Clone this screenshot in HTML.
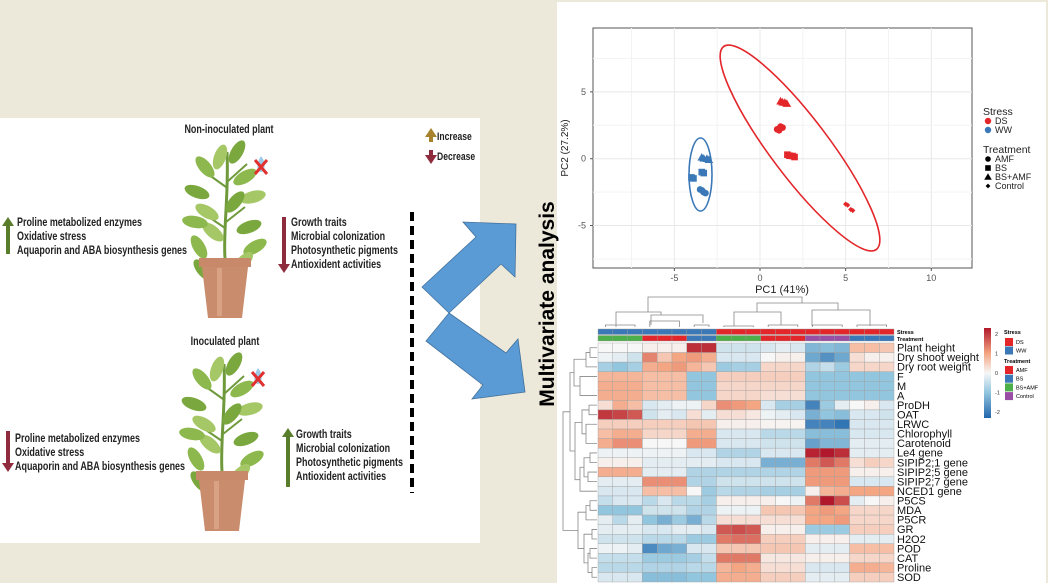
<!DOCTYPE html>
<html><head><meta charset="utf-8"><style>
body{margin:0;width:1048px;height:583px;background:#ece8da;overflow:hidden;font-family:"Liberation Sans",sans-serif;}
svg{position:absolute;left:0;top:0}
</style></head><body>
<svg width="1048" height="583" font-family="Liberation Sans, sans-serif">
<rect x="0" y="118" width="480" height="425" fill="#fff"/>
<rect x="557" y="2" width="489" height="581" fill="#fff"/>
<g id="left" font-weight="bold" font-size="11.5" fill="#222"></g>
<line x1="412" y1="212" x2="412" y2="493" stroke="#000" stroke-width="4" stroke-dasharray="9,5"/>
<polygon points="422,287 476,237 463,222 516,224 515,277 501,264 449,313" fill="#5b9bd5" stroke="#41719c" stroke-width="0.8"/>
<polygon points="449,313 506,353 518,339 525,392 472,399 483,385 426,341" fill="#5b9bd5" stroke="#41719c" stroke-width="0.8"/>
<text transform="translate(554,304) rotate(-90)" text-anchor="middle" font-size="21" font-weight="bold" fill="#000">Multivariate analysis</text>
<g id="pca"></g>
<g id="heat"></g>
</svg>
<script>
const NS="http://www.w3.org/2000/svg";
function el(p,tag,attrs,txt){const e=document.createElementNS(NS,tag);for(const k in attrs)e.setAttribute(k,attrs[k]);if(txt!=null)e.textContent=txt;p.appendChild(e);return e;}
// ---------- left panel ----------
const L=document.getElementById('left');
function ntext(x,y,s,anchor,size){return el(L,'text',{transform:`translate(${x},${y}) scale(0.78,1)`,'text-anchor':anchor||'start','font-size':size||11.5},s);}
function arrow(x,y1,y2,color,name){const up=y2<y1;const g=el(L,'g',{});

const tip=y2, base=up?y2+9:y2-9;el(g,'rect',{x:x-2,y:Math.min(y1,base),width:4,height:Math.abs(base-y1),fill:color});
el(g,'polygon',{points:`${x-6},${base} ${x+6},${base} ${x},${tip}`,fill:color});}
function lines(x,y,arr,name){arr.forEach((t,i)=>{const e=ntext(x,y+i*14,t);
});}
function plant(cx,top,potY,name){const g=el(L,'g',{});
el(g,'path',{d:`M${cx} ${potY} C${cx-2} ${top+80} ${cx+4} ${top+40} ${cx+2} ${top}`,stroke:'#6f9a3c','stroke-width':3,fill:'none'});
el(g,'path',{d:`M${cx} ${potY-30} L${cx-22} ${potY-45} M${cx+1} ${top+70} L${cx+20} ${top+55} M${cx+1} ${top+35} L${cx-20} ${top+20} M${cx+2} ${top+30} L${cx+22} ${top+12}`,stroke:'#6f9a3c','stroke-width':2,fill:'none'});
const leaves=[[-26,95,-30],[-18,60,-60],[-28,40,-70],[-20,15,-40],[-5,5,20],[12,0,30],[20,25,60],[28,45,75],[24,75,70],[30,95,60],[-12,80,-50],[10,50,40],[-30,70,-80],[18,110,45],[-22,118,-40]];
leaves.forEach((l,i)=>el(g,'ellipse',{cx:cx+l[0],cy:top+l[1],rx:6,ry:13,fill:i%3==0?'#8db84e':(i%3==1?'#a5c766':'#7aa83e'),transform:`rotate(${l[2]} ${cx+l[0]} ${top+l[1]})`}));
el(g,'rect',{x:cx-26,y:potY,width:52,height:9,fill:'#c8896a'});
el(g,'polygon',{points:`${cx-23},${potY+9} ${cx+23},${potY+9} ${cx+17},${potY+60} ${cx-17},${potY+60}`,fill:'#c98c6c'});
el(g,'rect',{x:cx-8,y:potY+10,width:5,height:48,fill:'#d9a284'});
el(g,'path',{d:`M${cx+36} ${top+4} q5 6 3 14 q-3 4 -6 0 q-2 -6 3 -14z`,fill:'#9ccbea'});
el(g,'path',{d:`M${cx+30} ${top+8} l12 14 M${cx+42} ${top+8} l-12 14`,stroke:'#e03030','stroke-width':3});}
let t=ntext(229,133,'Non-inoculated plant','middle');
t=ntext(225,345,'Inoculated plant','middle');
plant(225,152,258,'non-inoculated-plant');plant(222,364,471,'inoculated-plant');
arrow(431,142,128,'#a6832c','increase-legend-arrow');arrow(431,150,164,'#8e2b3d','decrease-legend-arrow');
t=ntext(437,140,'Increase','start',11);
t=ntext(437,160,'Decrease','start',11);
const leftList=['Proline metabolized enzymes','Oxidative stress','Aquaporin and ABA biosynthesis genes'];
const rightList=['Growth traits','Microbial colonization','Photosynthetic pigments','Antioxident activities'];
arrow(8,254,217,'#5a7d2c','up-arrow-stress');lines(17,226,leftList,'non-inoc-increase');
arrow(284,217,273,'#8e2b3d','down-arrow-growth');lines(291,226,rightList,'non-inoc-decrease');
arrow(8,431,472,'#8e2b3d','down-arrow-stress');lines(15,442,leftList,'inoc-decrease');
arrow(288,487,428,'#5a7d2c','up-arrow-growth');lines(296,438,rightList,'inoc-increase');

// ---------- PCA ----------
const pcaStress=['DS','DS','DS','DS','DS','DS','DS','DS','WW','WW','WW','WW','WW','WW'];
const pcaTreat=['BS+AMF','BS+AMF','AMF','AMF','BS','BS','Control','Control','BS+AMF','BS+AMF','BS','BS','AMF','AMF'];
const pc1=[1.2,1.45,1.0,1.2,1.6,1.9,5.0,5.3,-3.4,-3.1,-4.0,-3.4,-3.5,-3.3];
const pc2=[4.3,4.2,2.2,2.4,0.3,0.2,-3.4,-3.8,0.1,0.0,-1.4,-1.0,-2.3,-2.5];
const xTicks=[-5,0,5,10], yTicks=[-5,0,5];
const P=document.getElementById('pca');
const px=v=>760+v*17.13, py=v=>158.7-v*13.37;
const x0=593,x1=972,y0=28,y1=268;
el(P,'rect',{x:x0,y:y0,width:x1-x0,height:y1-y0,fill:'#fff',stroke:'#555','stroke-width':1});
for(let v=-7.5;v<=12.5;v+=2.5){const X=px(v);if(X>x0&&X<x1)el(P,'line',{x1:X,y1:y0,x2:X,y2:y1,stroke:xTicks.includes(v)?'#e8e8e8':'#f3f3f3'});}
for(let v=-7.5;v<=7.5;v+=2.5){const Y=py(v);if(Y>y0&&Y<y1)el(P,'line',{x1:x0,y1:Y,x2:x1,y2:Y,stroke:yTicks.includes(v)?'#e8e8e8':'#f3f3f3'});}
xTicks.forEach(v=>{const e=el(P,'text',{x:px(v),y:281,'text-anchor':'middle','font-size':9,fill:'#555'},String(v));

el(P,'line',{x1:px(v),y1:y1,x2:px(v),y2:y1+3,stroke:'#555'});});
yTicks.forEach(v=>{const e=el(P,'text',{x:586,y:py(v)+3,'text-anchor':'end','font-size':9,fill:'#555'},String(v));

el(P,'line',{x1:x0-3,y1:py(v),x2:x0,y2:py(v),stroke:'#555'});});
t=el(P,'text',{x:782,y:293,'text-anchor':'middle','font-size':11,fill:'#222'},'PC1 (41%)');
t=el(P,'text',{transform:'translate(568,148) rotate(-90)','text-anchor':'middle','font-size':10,fill:'#222'},'PC2 (27.2%)');
t=el(P,'ellipse',{cx:800,cy:148,rx:127,ry:29,fill:'none',stroke:'#e3262a','stroke-width':1.6,transform:'rotate(53 800 148)'});
t=el(P,'ellipse',{cx:700.5,cy:174.5,rx:11.5,ry:36.5,fill:'none',stroke:'#3a78b8','stroke-width':1.6});
const scol={DS:'#e3262a',WW:'#3a78b8'};
function shape(g,tr,x,y,c,s){if(tr=='AMF')return el(g,'circle',{cx:x,cy:y,r:s,fill:c});
if(tr=='BS')return el(g,'rect',{x:x-s,y:y-s,width:2*s,height:2*s,fill:c});
if(tr=='BS+AMF')return el(g,'polygon',{points:`${x-s-1},${y+s} ${x+s+1},${y+s} ${x},${y-s-1}`,fill:c});
return el(g,'polygon',{points:`${x},${y-s} ${x+s},${y} ${x},${y+s} ${x-s},${y}`,fill:c});}
pc1.forEach((v,i)=>{const s=pcaTreat[i]=='Control'?2.6:3.3;const m=shape(P,pcaTreat[i],px(v),py(pc2[i]),scol[pcaStress[i]],s);

const m2=shape(P,pcaTreat[i],px(v)+2,py(pc2[i])+1,scol[pcaStress[i]],s);});
t=el(P,'text',{x:983,y:115,'font-size':10.5,fill:'#222'},'Stress');
[['DS',124],['WW',133]].forEach(([k,y])=>{el(P,'circle',{cx:988,cy:y-3,r:3.2,fill:scol[k]});
const e=el(P,'text',{x:995,y:y,'font-size':9,fill:'#222'},k);});
t=el(P,'text',{x:983,y:153,'font-size':10.5,fill:'#222'},'Treatment');
[['AMF',162],['BS',171],['BS+AMF',180],['Control',189]].forEach(([k,y])=>{shape(P,k,988,y-3,'#000',k=='Control'?2.4:2.8);
const e=el(P,'text',{x:995,y:y,'font-size':9,fill:'#222'},k);});

// ---------- Heatmap ----------
const rowNames=['Plant height','Dry shoot weight','Dry root weight','F','M','A','ProDH','OAT','LRWC','Chlorophyll','Carotenoid','Le4 gene','SIPIP2;1 gene','SIPIP2;5 gene','SIPIP2;7 gene','NCED1 gene','P5CS','MDA','P5CR','GR','H2O2','POD','CAT',' Proline','SOD'];
const colStress=['WW','WW','WW','WW','WW','WW','WW','WW','DS','DS','DS','DS','DS','DS','DS','DS','DS','DS','DS','DS'];
const colTreat=['BS+AMF','BS+AMF','BS+AMF','AMF','AMF','AMF','BS','BS','BS+AMF','BS+AMF','BS+AMF','AMF','AMF','AMF','Control','Control','Control','BS','BS','BS'];
const heatValues=[
[0,0,0,0.1,0.1,0.1,2.1,2.1,-0.4,-0.4,-0.4,-0.3,-0.2,-0.3,-1.2,-1.1,-1.2,0.7,0.7,0.6],
[-0.1,-0.2,-0.4,1.3,0.6,1.0,1.1,0.9,-0.3,-0.3,-0.3,0,0.1,0.1,-1.4,-1.7,-1.4,0.3,0.1,0.1],
[-0.8,-1.0,-0.8,0.9,1.0,1.1,0.8,0.6,-0.9,-0.8,-0.8,0.4,0.4,0.4,-0.7,-0.5,-0.9,0.4,0.4,0.4],
[0.8,0.8,0.8,0.7,0.7,0.7,-1.0,-1.0,0.5,0.5,0.5,0.5,0.5,0.5,-1.0,-1.0,-1.0,-1.0,-1.0,-1.0],
[0.9,0.9,0.9,0.7,0.7,0.7,-1.0,-1.0,0.4,0.4,0.4,0.4,0.4,0.4,-1.0,-1.0,-1.0,-1.0,-1.0,-1.0],
[0.9,0.9,0.9,0.7,0.7,0.7,-1.0,-1.0,0.4,0.4,0.4,0.3,0.3,0.3,-1.0,-1.0,-1.0,-1.0,-1.0,-1.0],
[0.3,0.9,0.7,-0.3,-0.2,-0.1,-0.1,0.4,1.2,1.1,1.0,-0.3,-0.8,-0.8,-1.9,-0.9,-0.2,0,0.1,-0.3],
[2.0,1.9,1.7,-0.4,-0.2,-0.3,0.3,-0.2,0.3,0.3,0.2,-0.1,-0.2,-0.3,-1.3,-1.0,-1.1,-0.3,-0.3,-0.4],
[0.5,0.5,0.5,0.5,0.5,0.5,0.6,0.6,0.1,0.1,0.1,0.05,0.05,0.05,-1.9,-1.9,-2.1,-0.3,-0.3,-0.3],
[0.7,0.9,0.9,0.4,0.4,0.4,0.9,0.9,-0.3,-0.3,-0.3,-0.6,-0.6,-0.6,-1.1,-1.1,-1.1,-0.3,-0.3,-0.3],
[0.9,1.2,1.2,0,0,0,1.1,1.1,-0.3,-0.3,-0.3,-0.4,-0.4,-0.4,-1.5,-1.2,-1.2,-0.2,-0.2,-0.2],
[-0.1,-0.1,-0.1,-0.1,-0.1,-0.1,-0.3,-0.3,-0.7,-0.7,-0.7,-0.3,-0.3,-0.3,2.2,2.4,2.1,-0.2,-0.2,-0.2],
[0.1,0.1,0.1,-0.2,-0.2,-0.2,-0.2,-0.2,-0.3,-0.3,-0.3,-1.3,-1.3,-1.3,1.4,1.7,1.4,0.3,0.5,0.4],
[0.9,0.9,0.9,-0.2,-0.2,-0.2,-0.7,-0.7,-0.7,-0.7,-0.7,-0.7,-0.7,-0.7,1.1,1.1,1.1,0.1,0.1,0.1],
[-0.2,-0.2,-0.2,1.2,1.2,1.2,-0.7,-0.7,-0.4,-0.4,-0.4,-0.4,-0.4,-0.4,1.1,1.1,1.1,-0.3,-0.3,-0.3],
[-0.3,-0.3,-0.3,0.7,0.7,0.7,0,-0.9,-0.6,-0.7,-0.7,-0.8,-0.8,-0.8,0.1,0.8,0.9,1.0,1.0,1.0],
[-0.5,-0.3,-0.3,-0.6,-0.3,-0.6,-0.6,-0.8,0.1,0.1,0.1,0.1,0,-0.1,1.4,2.3,1.8,-0.2,0,0.1],
[-1.0,-1.0,-1.0,-0.4,-0.4,-0.4,-0.7,-0.7,-0.1,-0.1,-0.1,0.6,0.6,0.6,1.0,1.1,1.0,0.4,0.4,0.4],
[-0.2,-0.6,-0.2,-1.0,-1.3,-0.9,-1.3,-0.6,0.3,0.3,0.3,0.3,0.3,0.3,1.0,1.0,1.1,0.4,0.4,0.4],
[-0.2,-0.2,-0.2,-0.3,-0.3,-0.2,-0.2,-0.3,1.7,1.8,1.7,0.1,0.1,0.1,-0.9,-0.9,-0.9,0.5,0.5,0.5],
[-0.4,-0.4,-0.4,-0.6,-0.6,-0.6,-0.9,-0.9,1.4,1.5,1.5,0.5,0.5,0.5,0.1,0.1,0.1,-0.2,-0.2,-0.2],
[-0.1,-0.1,-0.2,-1.8,-1.4,-1.3,-0.3,-0.3,0.6,0.6,0.6,0.6,0.6,0.6,-0.2,-0.2,-0.2,0.7,0.7,0.7],
[-0.5,-0.5,-0.5,-0.9,-0.9,-0.9,-0.8,-0.5,1.4,1.4,1.4,0.2,0.2,0.2,0.1,0.1,0.1,0.4,0.4,0.4],
[-0.6,-0.6,-0.6,-0.7,-0.7,-0.7,-0.6,-0.6,0.8,1.0,0.9,0.3,0.3,0.3,-0.3,-0.3,-0.3,0.9,0.9,0.8],
[-0.3,-0.3,-0.3,-1.1,-1.1,-1.1,-1.0,-1.0,0.9,0.9,0.9,0.5,0.5,0.5,-0.2,-0.2,-0.2,0.5,0.5,0.5]];
const scaleTicks=[2,1,0,-1,-2];
const H=document.getElementById('heat');
const hx0=598,cw=14.8,hy0=343,rh=9.56;
const stops=[[-2.3,[33,102,172]],[-1,[146,197,222]],[0,[247,247,247]],[1,[244,165,130]],[2.3,[178,24,43]]];
function color(v){v=Math.max(-2.3,Math.min(2.3,v));for(let i=0;i<stops.length-1;i++){const[a,ca]=stops[i],[b,cb]=stops[i+1];
if(v<=b){const f=(v-a)/(b-a);return 'rgb('+ca.map((c,k)=>Math.round(c+(cb[k]-c)*f)).join(',')+')';}}return 'rgb(178,24,43)';}
const annS={WW:'#3a78b8',DS:'#e3262a'},annT={'AMF':'#e3262a','BS':'#3a78b8','BS+AMF':'#4daf4a','Control':'#984ea3'};
colStress.forEach((s,j)=>{let r=el(H,'rect',{x:hx0+j*cw,y:329,width:cw,height:5.5,fill:annS[s],stroke:'#999','stroke-width':0.4});

r=el(H,'rect',{x:hx0+j*cw,y:335.5,width:cw,height:5.5,fill:annT[colTreat[j]],stroke:'#999','stroke-width':0.4});
});
t=el(H,'text',{x:897,y:334,'font-size':5.5,'font-weight':'bold'},'Stress');
t=el(H,'text',{x:897,y:341,'font-size':5.5,'font-weight':'bold'},'Treatment');
heatValues.forEach((row,i)=>{row.forEach((v,j)=>{const r=el(H,'rect',{x:hx0+j*cw,y:hy0+i*rh,width:cw,height:rh,fill:color(v),stroke:'#a0a0a0','stroke-width':0.4});
});
const e=el(H,'text',{x:897,y:hy0+i*rh+rh/2+3.8,'font-size':11,fill:'#111'},rowNames[i]);
});
// dendrograms
function link(xa,xb,yTop,ya,yb){el(H,'path',{d:`M${xa} ${ya} V${yTop} H${xb} V${yb}`,fill:'none',stroke:'#888','stroke-width':0.8});}
const cx=j=>hx0+j*cw+cw/2;
link(616,661,312,327,315);link(651,703,315,325,323);link(648,802,297,312,303);
link(757,838,303,312,310);link(734,781,312,326,325);link(812,870,310,326,326);
link(cx(0),cx(2),325,327,327);link(cx(3),cx(5),321,327,327);link(cx(6),cx(7),325,327,327);
link(cx(8),cx(10),326,327,327);link(cx(11),cx(13),325,327,327);link(cx(14),cx(16),325,327,327);link(cx(17),cx(19),325,327,327);
const ry=i=>hy0+i*rh+rh/2;
function rl(xN,ya,yb,xa,xb){el(H,'path',{d:`M${xa} ${ya} H${xN} V${yb} H${xb}`,fill:'none',stroke:'#888','stroke-width':0.8});}
rl(590,ry(0),ry(1),597,597);rl(586,ry(0.5),ry(2),590,597);rl(580,ry(3),ry(5),597,597);rl(574,ry(1.2),ry(4),586,580);
rl(589,ry(6),ry(7),597,597);rl(586,ry(8),ry(10),597,597);rl(582,ry(6.5),ry(9),589,586);
rl(590,ry(11),ry(12),597,597);rl(588,ry(13),ry(14),597,597);rl(584,ry(11.5),ry(13.5),590,588);rl(580,ry(12.5),ry(15),584,597);
rl(575,ry(7.8),ry(13.8),582,580);rl(570,ry(2.6),ry(10.8),574,575);
rl(590,ry(16),ry(17),597,597);rl(586,ry(16.5),ry(18),590,597);
rl(592,ry(19),ry(20),597,597);rl(590,ry(21),ry(22),597,597);rl(592,ry(23),ry(24),597,597);rl(588,ry(21.5),ry(23.5),590,592);rl(584,ry(19.5),ry(22.5),592,588);
rl(578,ry(17.2),ry(21),586,584);rl(563,ry(6.7),ry(19.1),570,578);
// color bar
const cb=el(H,'defs',{});const lg=el(cb,'linearGradient',{id:'cbg',x1:0,y1:1,x2:0,y2:0});
stops.forEach(([v,c])=>el(lg,'stop',{offset:(v+2.3)/4.6,'stop-color':'rgb('+c.join(',')+')'}));
t=el(H,'rect',{x:984,y:328,width:7,height:90,fill:'url(#cbg)'});
scaleTicks.forEach(v=>{const e=el(H,'text',{x:995,y:373-v*19.6+2,'font-size':5.5,fill:'#333'},String(v));});
t=el(H,'text',{x:1004,y:334,'font-size':5.5,'font-weight':'bold'},'Stress');
[['DS',annS.DS,338],['WW',annS.WW,346.5]].forEach(([k,c,y])=>{el(H,'rect',{x:1005,y:y,width:8,height:8,fill:c});
const e=el(H,'text',{x:1016,y:y+6,'font-size':5.5},k);});
t=el(H,'text',{x:1004,y:363,'font-size':5.5,'font-weight':'bold'},'Treatment');
['AMF','BS','BS+AMF','Control'].forEach((k,i)=>{const y=366+i*8.7;el(H,'rect',{x:1005,y:y,width:8,height:8,fill:annT[k]});
const e=el(H,'text',{x:1016,y:y+6,'font-size':5.5},k);});
</script>
</body></html>
